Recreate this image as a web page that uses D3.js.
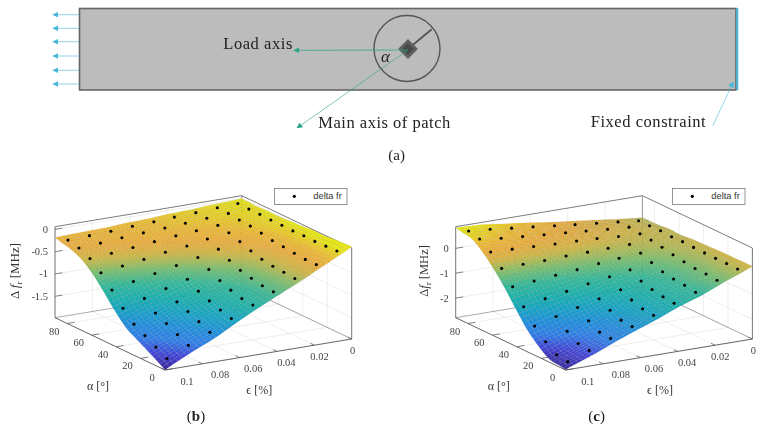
<!DOCTYPE html>
<html>
<head>
<meta charset="utf-8">
<style>
html,body{margin:0;padding:0;background:#fff}
svg{display:block;filter:blur(0.35px)}
</style>
<script src="https://cdn.jsdelivr.net/npm/d3@7"></script>
</head>
<body>
<svg id="fig" width="760" height="429"></svg>
<script>
// marker grid of both fits, rows follow alphaVals, columns follow epsVals
const alphaVals = [85.5,76.5,67.5,58.5,49.5,40.5,31.5,22.5,13.5,4.5]
const epsVals = [0.096,0.0845,0.073,0.0615,0.05,0.039,0.0275,0.016,0.005]

const zB = [
 [-0.21,-0.19,-0.17,-0.14,-0.12,-0.09,-0.07,-0.04,-0.02],
 [-0.27,-0.24,-0.20,-0.17,-0.14,-0.11,-0.08,-0.05,-0.03],
 [-0.39,-0.35,-0.30,-0.25,-0.20,-0.16,-0.12,-0.08,-0.03],
 [-0.59,-0.52,-0.45,-0.37,-0.31,-0.23,-0.17,-0.10,-0.04],
 [-0.86,-0.75,-0.65,-0.55,-0.45,-0.34,-0.25,-0.14,-0.04],
 [-1.15,-1.01,-0.87,-0.74,-0.60,-0.47,-0.34,-0.19,-0.05],
 [-1.39,-1.22,-1.05,-0.89,-0.73,-0.58,-0.41,-0.21,-0.04],
 [-1.53,-1.34,-1.15,-0.99,-0.83,-0.64,-0.45,-0.24,-0.05],
 [-1.67,-1.47,-1.26,-1.08,-0.90,-0.69,-0.47,-0.26,-0.04],
 [-1.81,-1.59,-1.38,-1.15,-0.93,-0.71,-0.49,-0.26,-0.03]
]
const zC = [
 [0.75,0.68,0.58,0.49,0.39,0.30,0.21,0.12,0.03],
 [0.64,0.53,0.45,0.38,0.32,0.25,0.18,0.12,0.04],
 [0.33,0.30,0.26,0.22,0.20,0.16,0.10,0.06,0.05],
 [-0.12,-0.10,-0.09,-0.05,-0.04,-0.02,-0.01,0.02,0.02],
 [-0.65,-0.56,-0.47,-0.39,-0.29,-0.21,-0.15,-0.06,0.03],
 [-1.24,-1.06,-0.91,-0.75,-0.61,-0.47,-0.32,-0.15,0.01],
 [-1.81,-1.57,-1.35,-1.14,-0.92,-0.71,-0.48,-0.22,0.00],
 [-2.23,-1.95,-1.67,-1.39,-1.12,-0.84,-0.56,-0.28,-0.01],
 [-2.54,-2.23,-1.92,-1.58,-1.27,-0.92,-0.60,-0.29,-0.01],
 [-2.61,-2.30,-1.96,-1.63,-1.32,-0.97,-0.67,-0.33,-0.02]
]

const alphaTicks = [0,20,40,60,80]
const epsTicks = [0,0.02,0.04,0.06,0.08,0.1]
const zTicksB = [0,-0.5,-1,-1.5]
const zTicksC = [0,-1,-2]
const loadArrowY = [14.7,28.3,41.7,56,70.3,84]

// parula colormap, a bit washed out like the figure
const parula = d3.scaleLinear()
  .domain([0,0.1,0.2,0.3,0.4,0.5,0.6,0.7,0.75,0.8,0.87,0.93,1])
  .range(["#3a2a9e","#4346d8","#2f7fe8","#1f90dc","#16a5c5","#1cb2ac","#35b99a","#78bf70","#a8bd58","#d2b845","#eeae3c","#f0bc30","#ebeb0e"])

const serif = "'Liberation Serif','DejaVu Serif',serif"
const svg = d3.select("#fig")

//=========================================/ panel a
const cyan = "#45b8dc", green = "#28a585"
const defs = svg.append("defs")
;[["headCyan",cyan],["headGreen",green]].forEach(function(h){
  defs.append("marker").attr("id",h[0]).attr("viewBox","0 0 10 10").attr("refX",9).attr("refY",5)
    .attr("markerUnits","userSpaceOnUse").attr("markerWidth",6).attr("markerHeight",6).attr("orient","auto-start-reverse")
    .append("path").attr("d","M0,0L10,5L0,10Z").attr("fill",h[1])
})

const a = svg.append("g")
a.append("rect").attr("x",79.5).attr("y",8.5).attr("width",656.5).attr("height",81.5)
  .attr("fill","#bcbcbc").attr("stroke","#666").attr("stroke-width",1.6)
a.append("line").attr("x1",737.3).attr("x2",737.3).attr("y1",8).attr("y2",90).attr("stroke",cyan).attr("stroke-width",2)
a.selectAll(".load").data(loadArrowY).enter().append("line").attr("class","load")
  .attr("x1",79).attr("x2",53).attr("y1",function(d){return d}).attr("y2",function(d){return d})
  .attr("stroke",cyan).attr("stroke-opacity",0.6).attr("stroke-width",1).attr("marker-end","url(#headCyan)")
a.append("circle").attr("cx",407).attr("cy",48.5).attr("r",33).attr("fill","none").attr("stroke","#555").attr("stroke-width",1.4)
a.append("line").attr("x1",408).attr("y1",49).attr("x2",431.7).attr("y2",29.3).attr("stroke","#555").attr("stroke-width",1.8)
a.append("rect").attr("x",401).attr("y",42).attr("width",14).attr("height",14)
  .attr("transform","rotate(45 408 49)").attr("fill","#5f5f5f")
a.append("rect").attr("x",404).attr("y",45).attr("width",8).attr("height",8)
  .attr("transform","rotate(45 408 49)").attr("fill","#484848")
a.append("line").attr("x1",408).attr("y1",50).attr("x2",294).attr("y2",50.3)
  .attr("stroke",green).attr("stroke-opacity",0.75).attr("marker-end","url(#headGreen)")
a.append("line").attr("x1",408).attr("y1",50).attr("x2",297).attr("y2",128)
  .attr("stroke",green).attr("stroke-opacity",0.6).attr("marker-end","url(#headGreen)")
a.append("line").attr("x1",712.7).attr("y1",126).attr("x2",733.3).attr("y2",82)
  .attr("stroke",cyan).attr("stroke-opacity",0.7).attr("stroke-width",0.8).attr("marker-end","url(#headCyan)")

function label(x,y,s,size,opt){
  opt = opt || {}
  return svg.append("text").attr("x",x).attr("y",y).text(s)
    .attr("font-family",serif).attr("font-size",size).attr("fill",opt.fill||"#222")
    .attr("font-style",opt.style||null).attr("font-weight",opt.weight||null)
    .attr("text-anchor",opt.anchor||"start").attr("textLength",opt.len||null)
}
label(223.3,49,"Load axis",16.5,{len:69})
label(318.3,128,"Main axis of patch",16.5,{len:132})
label(590.7,127,"Fixed constraint",16.5,{len:115})
label(385.5,62,"α",17,{style:"italic",anchor:"middle"})
label(396.7,160,"(a)",15,{anchor:"middle"})

//=========================================/ panels b and c
function surfacePanel(o){
  const g = svg.append("g")
  const fa = d3.scaleLinear().domain([90,0]).range([0,1])
  const fe = d3.scaleLinear().domain([0.1,0]).range([0,1])
  const fz = d3.scaleLinear().domain(o.zDomain).range([0,1])
  const col = d3.scaleLinear().domain(o.cDomain).range([0,1]).clamp(true)
  const ox = o.dx
  function px(al,ep,z){
    return [ox+55+110*fa(al)+186.7*fe(ep), 317.7+52.3*fa(al)-31*fe(ep)-91*fz(z)]
  }
  const zLo = o.zDomain[0], zHi = o.zDomain[1]
  const line = function(p,q,c,w){
    return g.append("line").attr("x1",p[0]).attr("y1",p[1]).attr("x2",q[0]).attr("y2",q[1])
      .attr("stroke",c).attr("stroke-width",w)
  }
  const gridCol = "#e2e2e2", boxCol = "#5a5a5a"

  // walls and floor
  o.zTicks.forEach(function(t){
    line(px(90,0.1,t),px(90,0,t),gridCol,0.6)
    line(px(90,0,t),px(0,0,t),gridCol,0.6)
  })
  alphaTicks.forEach(function(t){
    line(px(t,0.1,zLo),px(t,0,zLo),gridCol,0.6)
    line(px(t,0,zLo),px(t,0,zHi),gridCol,0.6)
  })
  epsTicks.forEach(function(t){
    line(px(0,t,zLo),px(90,t,zLo),gridCol,0.6)
    line(px(90,t,zLo),px(90,t,zHi),gridCol,0.6)
  })
  line(px(90,0.1,zLo),px(90,0,zLo),"#888",0.7)
  line(px(90,0,zLo),px(0,0,zLo),"#888",0.7)
  line(px(90,0,zLo),px(90,0,zHi),"#777",0.7)
  line(px(90,0.1,zHi),px(90,0,zHi),boxCol,0.8)
  line(px(90,0,zHi),px(0,0,zHi),boxCol,0.8)
  line(px(90,0.1,zLo),px(90,0.1,zHi),boxCol,0.8)
  line(px(0,0,zLo),px(0,0,zHi),boxCol,0.8)

  // smooth surface through the marker table
  const nr = alphaVals.length, nc = epsVals.length
  function cell(i,j){
    if(i<0) return 2*cell(0,j)-cell(1,j)
    if(i>=nr) return 2*cell(nr-1,j)-cell(nr-2,j)
    if(j<0) return 2*cell(i,0)-cell(i,1)
    if(j>=nc) return 2*cell(i,nc-1)-cell(i,nc-2)
    return o.z[i][j]
  }
  function cr(p0,p1,p2,p3,t){
    return 0.5*(2*p1+(p2-p0)*t+(2*p0-5*p1+4*p2-p3)*t*t+(3*p1-p0-3*p2+p3)*t*t*t)
  }
  const uAl = d3.scaleLinear().domain([alphaVals[0],alphaVals[nr-1]]).range([0,nr-1])
  const uEp = d3.scaleLinear().domain([epsVals[0],epsVals[nc-1]]).range([0,nc-1])
  function zAt(al,ep){
    const u = uAl(al), v = uEp(ep)
    const iu = Math.floor(u), iv = Math.floor(v), tu = u-iu, tv = v-iv
    const rows = [-1,0,1,2].map(function(k){
      return cr(cell(iu+k,iv-1),cell(iu+k,iv),cell(iu+k,iv+1),cell(iu+k,iv+2),tv)
    })
    return cr(rows[0],rows[1],rows[2],rows[3],tu)
  }
  const M = 44
  const alMesh = d3.range(M+1).map(function(k){return 90-90*k/M})
  const epMesh = d3.range(M+1).map(function(k){return 0.1*k/M})
  const quads = []
  alMesh.slice(0,-1).forEach(function(al,i){
    epMesh.slice(0,-1).forEach(function(ep,j){
      const al2 = alMesh[i+1], ep2 = epMesh[j+1]
      const zz = [zAt(al,ep),zAt(al,ep2),zAt(al2,ep2),zAt(al2,ep)]
      quads.push({i:i,j:j,
        pts:[px(al,ep,zz[0]),px(al,ep2,zz[1]),px(al2,ep2,zz[2]),px(al2,ep,zz[3])],
        c:parula(col(d3.mean(zz)))})
    })
  })
  // back to front: high alpha and low strain first
  quads.sort(function(p,q){return (p.i-q.i)||(p.j-q.j)})
  g.append("g").selectAll("polygon").data(quads).enter().append("polygon")
    .attr("points",function(d){return d.pts.map(function(p){return p[0].toFixed(2)+","+p[1].toFixed(2)}).join(" ")})
    .attr("fill",function(d){return d.c})
    .attr("stroke","#333").attr("stroke-opacity",0.15).attr("stroke-width",0.45)

  // measured points
  const pts = []
  alphaVals.forEach(function(al,i){
    epsVals.forEach(function(ep,j){ pts.push(px(al,ep,o.z[i][j])) })
  })
  g.append("g").selectAll("circle").data(pts).enter().append("circle")
    .attr("cx",function(d){return d[0]}).attr("cy",function(d){return d[1]}).attr("r",1.55).attr("fill","#000")

  // front axes and ticks
  line(px(90,0.1,zLo),px(0,0.1,zLo),boxCol,0.9)
  line(px(0,0.1,zLo),px(0,0,zLo),boxCol,0.9)
  const tickCol = "#555"
  alphaTicks.forEach(function(t){
    const p = px(t,0.1,zLo), q = px(t,0.096,zLo)
    line(p,q,tickCol,0.7)
    g.append("text").attr("x",p[0]-13).attr("y",p[1]+11).text(t)
      .attr("text-anchor","middle").attr("font-family",serif).attr("font-size",10.5).attr("fill","#444")
  })
  epsTicks.forEach(function(t){
    const p = px(0,t,zLo), q = px(3.2,t,zLo)
    line(p,q,tickCol,0.7)
    g.append("text").attr("x",p[0]+1+21*t/0.1).attr("y",p[1]+14.5).text(t)
      .attr("text-anchor","middle").attr("font-family",serif).attr("font-size",10.5).attr("fill","#444")
  })
  o.zTicks.forEach(function(t){
    const p = px(90,0.1,t), q = px(90,0.096,t)
    line(p,q,tickCol,0.7)
    g.append("text").attr("x",p[0]-7).attr("y",p[1]+3.5).text(t)
      .attr("text-anchor","end").attr("font-family",serif).attr("font-size",10.5).attr("fill","#444")
  })

  // axis labels
  const txt = function(x,y,s,size){
    return g.append("text").attr("x",x).attr("y",y).text(s).attr("text-anchor","middle")
      .attr("font-family",serif).attr("font-size",size).attr("fill","#333")
  }
  txt(ox+98,389.5,"α [°]",12)
  txt(ox+259.3,393.5,"ϵ [%]",12)
  const yl = g.append("text").attr("transform","translate("+o.yLabelX+",271) rotate(-90)")
    .attr("text-anchor","middle").attr("font-family",serif).attr("font-size",o.yLabelSize).attr("fill","#333")
  yl.append("tspan").text(o.delta)
  yl.append("tspan").attr("font-style","italic").text("f")
  yl.append("tspan").attr("font-size",9).attr("dy",2.5).text("r")
  yl.append("tspan").attr("dy",-2.5).text(" [MHz]")

  // legend
  const lg = g.append("g").attr("transform","translate("+o.legendX+",188.3)")
  lg.append("rect").attr("x",0.3).attr("y",0.2).attr("width",72.4).attr("height",16)
    .attr("fill","#fff").attr("stroke","#666").attr("stroke-width",0.7)
  lg.append("circle").attr("cx",20).attr("cy",8).attr("r",1.6).attr("fill","#000")
  lg.append("text").attr("x",39).attr("y",11).text("delta fr")
    .attr("font-family","'Liberation Sans',Arial,sans-serif").attr("font-size",9.3).attr("fill","#333")
}

surfacePanel({dx:0,z:zB,zDomain:[-1.98,0.06],cDomain:[-1.95,0],zTicks:zTicksB,yLabelX:19,yLabelSize:13,delta:"Δ ",legendX:274.3})
surfacePanel({dx:400.7,z:zC,zDomain:[-2.79,0.87],cDomain:[-2.75,0.8],zTicks:zTicksC,yLabelX:428,yLabelSize:12.5,delta:"Δ",legendX:672.3})

const bl = label(196,421,"(",15,{anchor:"middle"})
bl.append("tspan").attr("font-weight","bold").text("b")
bl.append("tspan").text(")")
const cl = label(596.7,421,"(",15,{anchor:"middle"})
cl.append("tspan").attr("font-weight","bold").text("c")
cl.append("tspan").text(")")
</script>
</body>
</html>
